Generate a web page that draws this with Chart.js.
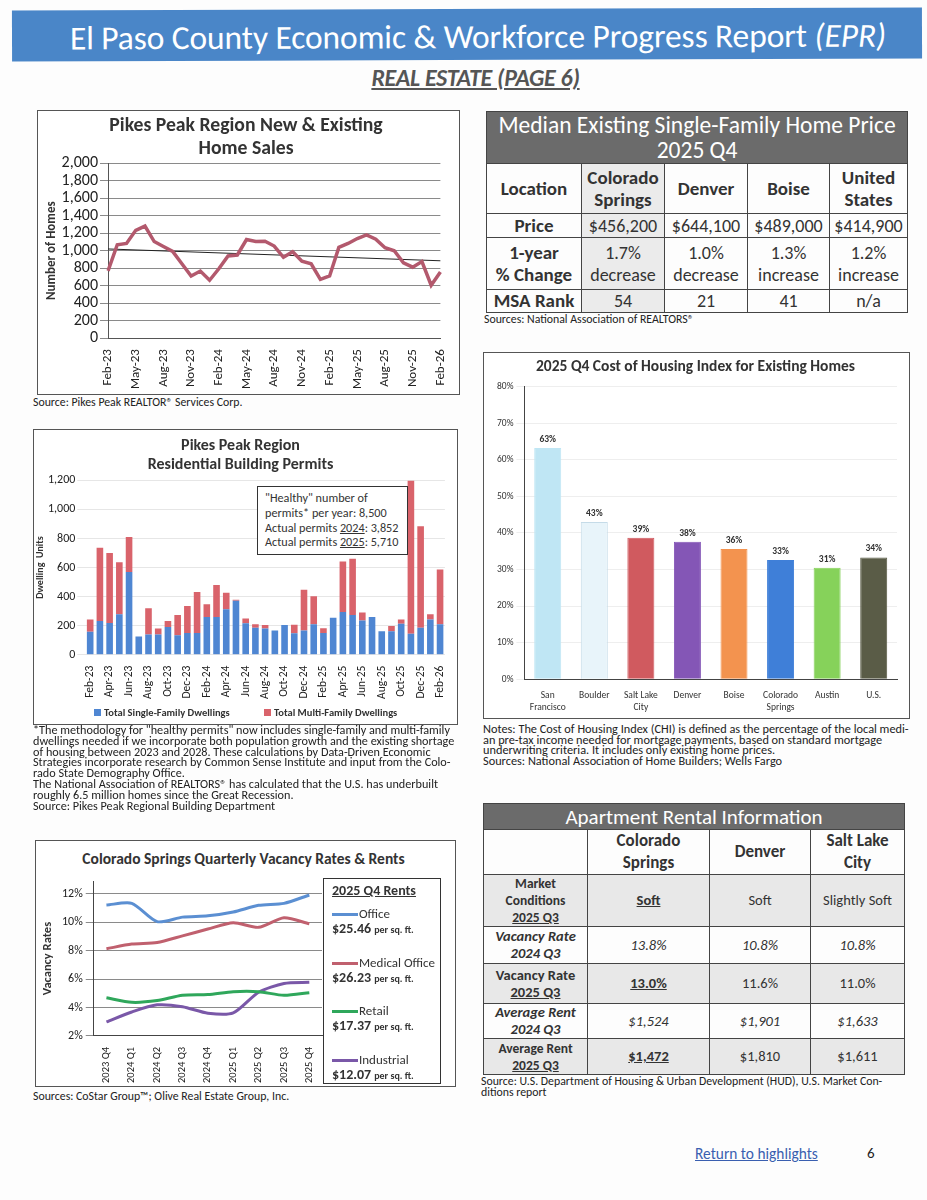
<!DOCTYPE html>
<html>
<head>
<meta charset="utf-8">
<script src="https://cdn.jsdelivr.net/npm/chart.js@4.4.0/dist/chart.umd.min.js"></script>
<style>
    body { margin: 0; background: #fff; font-family: Carlito, Lato, "Open Sans", sans-serif; color: #222; }
    #page { position: relative; width: 927px; height: 1200px; overflow: hidden; background: #fdfdfd; }
    .abs { position: absolute; }
    .band { left: 12px; top: 9px; width: 910px; height: 51px; background: #4a86c8; transform: rotate(-0.2deg);
            color: #fff; font-size: 33.5px; text-align: center; line-height: 56px; font-weight: 300; letter-spacing: -0.1px;
            box-sizing: border-box; padding-left: 22px; }
    .subhead { left: 12px; top: 63px; width: 927px; text-align: center; font-size: 24px; font-weight: bold;
               font-style: italic; color: #555; text-decoration: underline; letter-spacing: -0.3px; }
    .box { border: 1px solid #555; background: #fff; }
    .src { font-size: 11.8px; color: #222; line-height: 11px; }
    table { border-collapse: collapse; position: absolute; }
    td, th { border: 1px solid #444; text-align: center; padding: 0; }
    .t1 td, .t1 th { font-size: 18px; line-height: 22px; color: #333; }
    .t1 th { font-weight: bold; font-size: 19px; }
    .t1 .head { background: #6b6b6b; color: #fff; font-weight: normal; font-size: 23.5px; line-height: 25px; }
    .t1 .cs { background: #ebebeb; }
    .t2 td, .t2 th { font-size: 14.5px; line-height: 17px; color: #333; }
    .t2 .head { background: #6b6b6b; color: #fff; font-weight: normal; font-size: 21px; line-height: 24px; }
    .t2 .colh { font-size: 17px; font-weight: bold; line-height: 22px; }
    .t2 .small { font-size: 13.5px; }
    .t2 .g td, .t2 .g th { background: #e8e8e8; }
    .lg { font-size: 13px; line-height: 15px; color: #333; }
    .lg b { font-size: 14px; }
    .lg small { font-size: 10px; font-weight: bold; }
    .sw { display: inline-block; width: 26px; height: 3px; vertical-align: middle; margin-right: 1px; }
    .pl { font-size: 10.5px; font-weight: bold; color: #333; white-space: nowrap; }
    .pl span { display: inline-block; width: 7px; height: 7px; margin-right: 3px; }
</style>
</head>
<body>
<div id="page">
    <div class="abs band">El Paso County Economic &amp; Workforce Progress Report <i>(EPR)</i></div>
    <div class="abs subhead">REAL ESTATE (PAGE 6)</div>

    <!-- 1. 주택 판매 -->
    <div class="abs box" style="left:37px;top:110px;width:421px;height:283px;">
        <canvas id="salesChart"></canvas>
    </div>
    <div class="abs src" style="left:33px;top:397px;">Source: Pikes Peak REALTOR® Services Corp.</div>

    <!-- 2. 건축 허가 -->
    <div class="abs box" style="left:33px;top:429px;width:423px;height:294px;">
        <canvas id="permitChart"></canvas>
        <div class="abs" style="left:223px;top:56px;width:142px;border:1px solid #333;background:#fff;padding:4px 0 4px 7px;font-size:12.2px;line-height:14.8px;color:#333;white-space:nowrap;">
            "Healthy" number of<br>permits* per year: 8,500<br>Actual permits <u>2024</u>: 3,852<br>Actual permits <u>2025</u>: 5,710
        </div>
        <div class="abs pl" style="left:60px;top:276px;"><span style="background:#4f86d2"></span>Total Single-Family Dwellings</div>
        <div class="abs pl" style="left:230px;top:276px;"><span style="background:#d9636b"></span>Total Multi-Family Dwellings</div>
    </div>
    <div class="abs src" style="left:33px;top:725px;width:432px;font-size:12.2px;line-height:10.8px;">
        *The methodology for "healthy permits" now includes single-family and multi-family dwellings needed if we incorporate both population growth and the existing shortage of housing between 2023 and 2028. These calculations by Data-Driven Economic Strategies incorporate research by Common Sense Institute and input from the Colo&shy;rado State Demography Office.<br>
        The National Association of REALTORS® has calculated that the U.S. has underbuilt roughly 6.5 million homes since the Great Recession.<br>
        Source: Pikes Peak Regional Building Department
    </div>

    <!-- 3. 공실률 -->
    <div class="abs box" style="left:35px;top:840px;width:419px;height:245px;">
        <div class="abs" style="left:0;top:8px;width:415px;text-align:center;font-size:15.5px;font-weight:bold;color:#333;">Colorado Springs Quarterly Vacancy Rates &amp; Rents</div>
        <div class="abs" style="left:0;top:30px;width:290px;height:215px;"><canvas id="vacancyChart"></canvas></div>
        <div class="abs lg" style="left:287px;top:37px;width:116px;height:204px;border:1px solid #333;">
            <div class="abs" style="left:8px;top:4px;font-weight:bold;font-size:14px;text-decoration:underline;">2025 Q4 Rents</div>
            <div id="rentLegend"></div>
        </div>
    </div>
    <div class="abs src" style="left:33px;top:1091px;">Sources: CoStar Group™; Olive Real Estate Group, Inc.</div>

    <!-- 오른쪽: 중간 주택 가격 표 -->
    <table class="t1" style="left:486px;top:111px;width:422px;">
        <tr><th colspan="5" class="head" style="height:51px;">Median Existing Single-Family Home Price<br>2025 Q4</th></tr>
        <tr style="height:50px;"><th style="width:94px;">Location</th><th class="cs" style="width:82px;">Colorado<br>Springs</th><th style="width:82px;">Denver</th><th style="width:81px;">Boise</th><th>United<br>States</th></tr>
        <tr style="height:24px;"><th>Price</th><td class="cs">$456,200</td><td>$644,100</td><td>$489,000</td><td>$414,900</td></tr>
        <tr style="height:52px;"><th>1-year<br>% Change</th><td class="cs">1.7%<br>decrease</td><td>1.0%<br>decrease</td><td>1.3%<br>increase</td><td>1.2%<br>increase</td></tr>
        <tr style="height:23px;"><th>MSA Rank</th><td class="cs">54</td><td>21</td><td>41</td><td>n/a</td></tr>
    </table>
    <div class="abs src" style="left:484px;top:314px;">Sources: National Association of REALTORS®</div>

    <!-- 4. 주거비 지수 -->
    <div class="abs box" style="left:483px;top:352px;width:425px;height:365px;">
        <canvas id="chiChart"></canvas>
    </div>
    <div class="abs src" style="left:483px;top:724px;width:428px;font-size:12.3px;line-height:10.5px;">
        Notes: The Cost of Housing Index (CHI) is defined as the percentage of the local medi&shy;an pre-tax income needed for mortgage payments, based on standard mortgage underwriting criteria. It includes only existing home prices.<br>
        Sources: National Association of Home Builders; Wells Fargo
    </div>

    <!-- 아파트 임대 표 -->
    <table class="t2" style="left:483px;top:803px;width:422px;">
        <tr><th colspan="4" class="head" style="height:25px;">Apartment Rental Information</th></tr>
        <tr style="height:45px;"><th style="width:103px;"></th><th class="colh" style="width:121px;">Colorado<br>Springs</th><th class="colh" style="width:100px;">Denver</th><th class="colh">Salt Lake<br>City</th></tr>
        <tr class="g" style="height:52px;"><th class="small">Market<br>Conditions<br><u>2025 Q3</u></th><td><b><u>Soft</u></b></td><td>Soft</td><td>Slightly Soft</td></tr>
        <tr style="height:37px;"><th><i>Vacancy Rate<br>2024 Q3</i></th><td><i>13.8%</i></td><td><i>10.8%</i></td><td><i>10.8%</i></td></tr>
        <tr class="g" style="height:40px;"><th>Vacancy Rate<br><u>2025 Q3</u></th><td><b><u>13.0%</u></b></td><td>11.6%</td><td>11.0%</td></tr>
        <tr style="height:35px;"><th><i>Average Rent<br>2024 Q3</i></th><td><i>$1,524</i></td><td><i>$1,901</i></td><td><i>$1,633</i></td></tr>
        <tr class="g" style="height:36px;"><th class="small">Average Rent<br><u>2025 Q3</u></th><td><b><u>$1,472</u></b></td><td>$1,810</td><td>$1,611</td></tr>
    </table>
    <div class="abs src" style="left:481px;top:1076px;width:428px;font-size:11.8px;line-height:10.5px;">Source: U.S. Department of Housing &amp; Urban Development (HUD), U.S. Market Con&shy;ditions report</div>

    <div class="abs" style="left:695px;top:1144px;font-size:15.4px;color:#3a5fb0;text-decoration:underline;">Return to highlights</div>
    <div class="abs" style="left:867px;top:1144px;font-size:15px;color:#222;">6</div>
</div>

<script>
/* ===== 데이터 ===== */
// 월별 라벨 (Feb-23 ~ Feb-26)
const months = ['Feb-23','Mar-23','Apr-23','May-23','Jun-23','Jul-23','Aug-23','Sep-23','Oct-23','Nov-23','Dec-23',
    'Jan-24','Feb-24','Mar-24','Apr-24','May-24','Jun-24','Jul-24','Aug-24','Sep-24','Oct-24','Nov-24','Dec-24',
    'Jan-25','Feb-25','Mar-25','Apr-25','May-25','Jun-25','Jul-25','Aug-25','Sep-25','Oct-25','Nov-25','Dec-25',
    'Jan-26','Feb-26'];

// 주택 판매
const homeSales = [770,1068,1083,1233,1282,1105,1049,992,850,710,767,662,793,940,951,1128,1105,1109,1053,925,
    989,880,850,673,711,1038,1083,1139,1180,1132,1034,1000,861,812,876,605,756];
const salesTrendStart = 1020;
const salesTrendEnd = 885;

// 건축 허가
const singleFamily = [158,232,218,278,570,125,139,139,190,134,150,150,260,260,313,371,216,185,181,167,204,148,167,
    209,150,255,294,273,236,260,162,162,213,144,185,243,209];
const multiFamily = [85,505,482,359,241,0,181,42,42,139,186,281,88,220,113,7,34,24,23,0,0,58,280,
    194,33,0,348,387,54,0,0,35,30,1056,700,35,377];

// 공실률
const quarters = ['2023 Q4','2024 Q1','2024 Q2','2024 Q3','2024 Q4','2025 Q1','2025 Q2','2025 Q3','2025 Q4'];
const officeVac = [11.22,11.34,10.05,10.37,10.46,10.73,11.2,11.34,11.93];
const medicalVac = [8.14,8.47,8.58,9.05,9.53,9.98,9.65,10.33,9.9];
const retailVac = [4.69,4.37,4.49,4.86,4.92,5.12,5.12,4.86,5.05];
const industrialVac = [2.99,3.69,4.19,4.06,3.6,3.62,5.08,5.7,5.78];
const rentNames = ['Office','Medical Office','Retail','Industrial'];
const rentValues = ['$25.46','$26.23','$17.37','$12.07'];

// 주거비 지수
const chiCities = [['San','Francisco'],'Boulder',['Salt Lake','City'],'Denver','Boise',['Colorado','Springs'],'Austin','U.S.'];
const chiValues = [63.2,43,38.7,37.6,35.6,32.6,30.5,33.3];
const chiLabels = ['63%','43%','39%','38%','36%','33%','31%','34%'];

const FONT = 'Carlito, Lato, "Open Sans", sans-serif';
Chart.defaults.font.family = FONT;
Chart.defaults.color = '#333';
Chart.defaults.animation = false;

/* ===== 1. 주택 판매 차트 ===== */
function renderSalesChart() {
    const trend = months.map((_, i) => i === 0 ? salesTrendStart : (i === months.length - 1 ? salesTrendEnd : null));
    new Chart(document.getElementById('salesChart'), {
        type: 'line',
        data: {
            labels: months,
            datasets: [
                { data: homeSales, borderColor: '#b3596d', borderWidth: 3.5, pointRadius: 0, tension: 0 },
                { data: trend, borderColor: '#222', borderWidth: 1, pointRadius: 0, spanGaps: true }
            ]
        },
        options: {
            responsive: true, maintainAspectRatio: false,
            layout: { padding: { left: 6, right: 11, top: 0, bottom: 2 } },
            plugins: {
                legend: { display: false }, tooltip: { enabled: false },
                title: { display: true, text: ['Pikes Peak Region New & Existing', 'Home Sales'], color: '#333',
                    font: { size: 19.7, weight: 'bold', lineHeight: 1.2 }, padding: { top: 3, bottom: 2 } }
            },
            scales: {
                x: {
                    grid: { display: false },
                    border: { color: '#555' },
                    ticks: { autoSkip: false, maxRotation: 90, minRotation: 90, color: '#222', font: { size: 13 },
                        callback: (v, i) => i % 3 === 0 ? months[i] : '' }
                },
                y: {
                    min: 0, max: 2000,
                    grid: { color: '#8a8a8a' },
                    border: { color: '#555' },
                    title: { display: true, text: 'Number of Homes', font: { size: 13, weight: 'bold' }, color: '#333', padding: 0 },
                    ticks: { stepSize: 200, autoSkip: false, padding: 2, color: '#222', font: { size: 16 }, callback: v => v.toLocaleString('en-US') }
                }
            }
        }
    });
}

/* ===== 2. 건축 허가 차트 ===== */
function renderPermitChart() {
    new Chart(document.getElementById('permitChart'), {
        type: 'bar',
        data: {
            labels: months,
            datasets: [
                { label: 'Total Single-Family Dwellings', data: singleFamily, backgroundColor: '#4f86d2', barPercentage: 0.68, categoryPercentage: 1 },
                { label: 'Total Multi-Family Dwellings', data: multiFamily, backgroundColor: '#d9636b', barPercentage: 0.68, categoryPercentage: 1 }
            ]
        },
        options: {
            responsive: true, maintainAspectRatio: false,
            layout: { padding: { left: 0, right: 10, top: 0, bottom: 22 } },
            plugins: {
                tooltip: { enabled: false },
                legend: { display: false },
                title: { display: true, text: ['Pikes Peak Region', 'Residential Building Permits'], color: '#333',
                    font: { size: 16, weight: 'bold', lineHeight: 1.2 }, padding: { top: 6, bottom: 6 } }
            },
            scales: {
                x: {
                    stacked: true,
                    grid: { display: false },
                    border: { display: false },
                    ticks: { autoSkip: false, maxRotation: 90, minRotation: 90, color: '#222', font: { size: 11.5 },
                        callback: (v, i) => i % 2 === 0 ? months[i] : '' }
                },
                y: {
                    stacked: true, min: 0, max: 1200,
                    grid: { color: '#e6e6e6' },
                    border: { display: false },
                    title: { display: true, text: 'Dwelling  Units', font: { size: 10, weight: 'bold' }, color: '#333', padding: 0 },
                    ticks: { stepSize: 200, autoSkip: false, padding: 2, color: '#222', font: { size: 12 }, callback: v => v.toLocaleString('en-US') }
                }
            }
        }
    });
}

/* ===== 3. 공실률 차트 ===== */
function renderVacancyChart() {
    const colors = ['#5b8fd2', '#c0606e', '#2fa75b', '#7a58a8'];
    const series = [officeVac, medicalVac, retailVac, industrialVac];
    new Chart(document.getElementById('vacancyChart'), {
        type: 'line',
        data: {
            labels: quarters,
            datasets: series.map((s, i) => ({ label: rentNames[i], data: s, borderColor: colors[i], borderWidth: 3,
                pointRadius: 0, tension: 0.25 }))
        },
        options: {
            responsive: true, maintainAspectRatio: false,
            layout: { padding: { left: 0, right: 4, top: 4, bottom: 0 } },
            plugins: { legend: { display: false }, tooltip: { enabled: false } },
            scales: {
                x: {
                    offset: true,
                    grid: { display: false },
                    border: { color: '#444' },
                    ticks: { maxRotation: 90, minRotation: 90, color: '#222', font: { size: 10.5 } }
                },
                y: {
                    min: 2, max: 12.9,
                    grid: { color: '#8a8a8a' },
                    border: { color: '#444' },
                    title: { display: true, text: 'Vacancy Rates', font: { size: 12.5, weight: 'bold' }, color: '#333' },
                    ticks: { stepSize: 2, includeBounds: false, autoSkip: false, color: '#222', font: { size: 12 }, callback: v => v + '%' }
                }
            }
        }
    });
    // HTML 범례 (임대료)
    document.getElementById('rentLegend').innerHTML = rentNames.map((n, i) =>
        `<div class="abs" style="left:8px;top:${27 + i * 48.5}px;white-space:nowrap;"><span class="sw" style="background:${colors[i]}"></span>${n}<br>` +
        `<b>${rentValues[i]}</b> <small>per sq. ft.</small></div>`).join('');
}

/* ===== 4. 주거비 지수 차트 ===== */
function renderChiChart() {
    const barColors = ['#bfe6f4', '#e8f4fa', '#d05a5f', '#8456b6', '#f3934f', '#3f7fd8', '#86d25a', '#5a5c47'];
    const valueLabels = {
        id: 'valueLabels',
        afterDatasetsDraw(chart) {
            const ctx = chart.ctx;
            const meta = chart.getDatasetMeta(0);
            ctx.save();
            ctx.font = 'bold 9.5px ' + FONT;
            ctx.fillStyle = '#333';
            ctx.textAlign = 'center';
            meta.data.forEach((bar, i) => ctx.fillText(chiLabels[i], bar.x, bar.y - 6));
            ctx.restore();
        }
    };
    new Chart(document.getElementById('chiChart'), {
        type: 'bar',
        data: {
            labels: chiCities,
            datasets: [{ data: chiValues, backgroundColor: barColors, borderColor: barColors.map((c, i) => i === 1 ? '#c5dbe8' : c),
                borderWidth: 1, barPercentage: 0.58, categoryPercentage: 1 }]
        },
        options: {
            responsive: true, maintainAspectRatio: false,
            layout: { padding: { left: 10, right: 12, top: 0, bottom: 2 } },
            plugins: {
                legend: { display: false }, tooltip: { enabled: false },
                title: { display: true, text: '2025 Q4 Cost of Housing Index for Existing Homes', color: '#333',
                    font: { size: 15.5, weight: 'bold' }, padding: { top: 5, bottom: 10 } }
            },
            scales: {
                x: {
                    grid: { display: false },
                    border: { color: '#444' },
                    ticks: { color: '#333', font: { size: 9.5 } }
                },
                y: {
                    min: 0, max: 80,
                    grid: { color: '#eeeeee' },
                    border: { color: '#444' },
                    ticks: { stepSize: 10, color: '#333', font: { size: 9.5 }, callback: v => v + '%' }
                }
            }
        },
        plugins: [valueLabels]
    });
}

document.addEventListener('DOMContentLoaded', () => {
    renderSalesChart();
    renderPermitChart();
    renderVacancyChart();
    renderChiChart();
});
</script>
</body>
</html>
